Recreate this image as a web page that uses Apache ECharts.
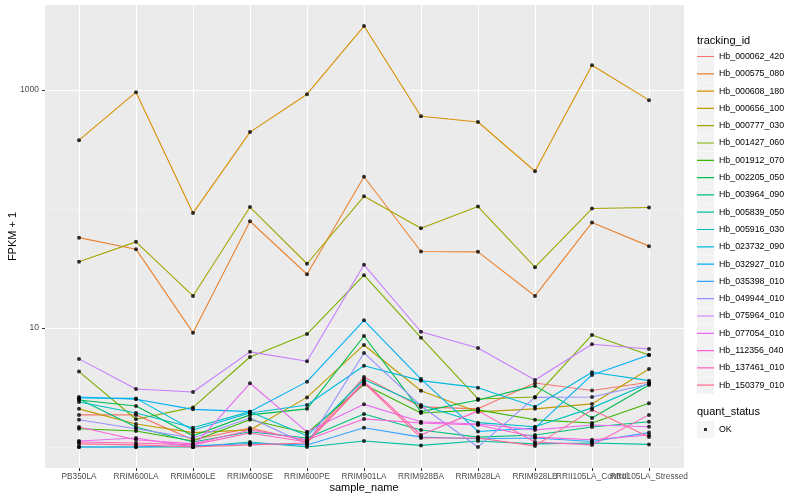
<!DOCTYPE html>
<html><head><meta charset="utf-8">
<script src="https://cdn.jsdelivr.net/npm/echarts@6.0.0/dist/echarts.min.js"></script>
<style>html,body{margin:0;padding:0;background:#fff}#c{width:800px;height:500px}</style>
</head><body><div id="c"></div>
<script>
const categories = ['PB350LA','RRIM600LA','RRIM600LE','RRIM600SE','RRIM600PE','RRIM901LA','RRIM928BA','RRIM928LA','RRIM928LB','RRII105LA_Control','RRII105LA_Stressed'];
const trackingIds = ['Hb_000062_420','Hb_000575_080','Hb_000608_180','Hb_000656_100','Hb_000777_030','Hb_001427_060','Hb_001912_070','Hb_002205_050','Hb_003964_090','Hb_005839_050','Hb_005916_030','Hb_023732_090','Hb_032927_010','Hb_035398_010','Hb_049944_010','Hb_075964_010','Hb_077054_010','Hb_112356_040','Hb_137461_010','Hb_150379_010'];
const colors = ['#F8766D','#EA8331','#D89000','#C09B00','#A3A500','#7CAE00','#39B600','#00BB4E','#00BF7D','#00C1A3','#00BFC4','#00BAE0','#00B0F6','#35A2FF','#9590FF','#C77CFF','#E76BF3','#FA62DB','#FF62BC','#FF6C91'];

// FPKM + 1 values, one array per tracking_id, in category order
const hb_000062_420 = [1.86,1.86,1.15,1.44,1.12,3.87,2.17,2.09,3.45,2.98,3.50];
const hb_000575_080 = [57.5,46,9.1,79,28.3,187,44,43.7,18.6,77,48.8];
const hb_000608_180 = [380,962,92.5,444,925,3460,604,540,208,1620,824];
const hb_000656_100 = [2.09,1.56,1.32,1.39,2.61,7.2,2.97,1.97,2.09,2.30,4.52];
const hb_000777_030 = [36,53,18.6,104,34.7,128,69,105,32.5,101,103];
const hb_001427_060 = [4.3,1.71,2.15,5.7,8.9,27.8,8.3,2.53,2.63,8.75,5.93];
const hb_001912_070 = [1.42,1.36,1.12,1.69,1.31,3.35,1.93,2.05,1.69,1.59,2.33];
const hb_002205_050 = [2.48,2.21,1.24,1.86,2.09,8.57,1.98,2.48,3.26,1.75,3.32];
const hb_003964_090 = [2.53,1.47,1.10,1.34,1.19,1.89,1.39,1.21,1.26,1.47,1.63];
const hb_005839_050 = [1.0,1.0,1.0,1.10,1.0,1.12,1.03,1.12,1.06,1.08,1.05];
const hb_005916_030 = [2.39,1.93,1.45,1.98,1.24,3.69,2.25,1.60,1.48,2.13,3.43];
const hb_023732_090 = [2.58,2.56,1.39,1.93,2.25,4.82,3.61,3.15,2.18,4.24,3.61];
const hb_032927_010 = [2.63,2.52,2.07,1.98,3.54,11.6,3.72,1.35,1.44,4.03,5.93];
const hb_035398_010 = [1.0,1.0,1.02,1.07,1.04,1.45,1.21,1.17,1.19,1.11,1.32];
const hb_049944_010 = [1.69,1.42,1.19,1.75,1.06,6.17,2.21,1.0,2.61,2.63,3.38];
const hb_075964_010 = [5.5,3.07,2.9,6.3,5.25,34,9.3,6.8,3.66,7.3,6.66];
const hb_077054_010 = [1.12,1.19,1.0,3.43,1.34,2.28,1.63,1.56,1.39,1.53,1.48];
const hb_112356_040 = [1.47,1.15,1.06,1.39,1.15,1.72,1.59,1.53,1.21,1.15,1.26];
const hb_137461_010 = [1.10,1.08,1.04,1.31,1.10,3.55,1.26,2.01,1.10,1.04,1.86];
const hb_150379_010 = [1.06,1.04,1.0,1.04,1.08,3.45,1.19,1.19,1.02,2.05,1.21];

const seriesValues = [hb_000062_420,hb_000575_080,hb_000608_180,hb_000656_100,hb_000777_030,hb_001427_060,hb_001912_070,hb_002205_050,hb_003964_090,hb_005839_050,hb_005916_030,hb_023732_090,hb_032927_010,hb_035398_010,hb_049944_010,hb_075964_010,hb_077054_010,hb_112356_040,hb_137461_010,hb_150379_010];
const yTickLabels = [10, 1000];
const yMin = 0.665, yMax = 5200;

const FONT = 'Liberation Sans, Arial, sans-serif';
const linePath = 'path://M0,0h0.01v0.01h-0.01z M0,7.9h17v1.2h-17z M16.99,16.99h0.01v0.01h-0.01z';
const dotPath = 'path://M0,0h0.01v0.01h-0.01z M7,7h3v3h-3z M16.99,16.99h0.01v0.01h-0.01z';

const lineSeries = trackingIds.map((id, i) => ({
  name: id, type: 'line', xAxisIndex: 1, yAxisIndex: 2,
  data: seriesValues[i], showSymbol: false, symbol: 'none',
  lineStyle: { color: colors[i], width: 1.1 }, itemStyle: { color: colors[i] },
  silent: true, z: 2
}));
const points = [];
seriesValues.forEach(arr => arr.forEach((v, j) => points.push([categories[j], v])));

const option = {
  animation: false,
  backgroundColor: '#ffffff',
  textStyle: { fontFamily: FONT },
  title: [
    { text: 'tracking_id', left: 697, top: 35, padding: 0, textStyle: { fontSize: 11, fontWeight: 'normal', color: '#000', fontFamily: FONT } },
    { text: 'quant_status', left: 697, top: 406, padding: 0, textStyle: { fontSize: 11, fontWeight: 'normal', color: '#000', fontFamily: FONT } }
  ],
  legend: [
    { orient: 'vertical', left: 697, top: 48, padding: 0, itemWidth: 17, itemHeight: 17, itemGap: 0.3, icon: 'rect', selectedMode: false, z: 3,
      itemStyle: { color: '#F2F2F2', borderWidth: 0 }, formatter: () => ' ', data: trackingIds.slice(), textStyle: { fontSize: 8.8 } },
    { orient: 'vertical', left: 697, top: 48, padding: 0, itemWidth: 17, itemHeight: 17, itemGap: 0.3, icon: linePath, selectedMode: false, z: 4,
      data: trackingIds.map((n, i) => ({ name: n, itemStyle: { color: colors[i], borderWidth: 0 } })),
      textStyle: { fontSize: 8.8, color: '#000', fontFamily: FONT } },
    { orient: 'vertical', left: 697, top: 421, padding: 0, itemWidth: 17, itemHeight: 17, icon: 'rect', selectedMode: false, z: 3,
      itemStyle: { color: '#F2F2F2', borderWidth: 0 }, formatter: () => ' ', data: ['OK'], textStyle: { fontSize: 8.8 } },
    { orient: 'vertical', left: 697, top: 421, padding: 0, itemWidth: 17, itemHeight: 17, icon: dotPath, selectedMode: false, z: 4,
      data: [{ name: 'OK', itemStyle: { color: '#000', borderWidth: 0 } }],
      textStyle: { fontSize: 8.8, color: '#000', fontFamily: FONT } }
  ],
  grid: [
    { left: 45, right: 116, top: 5, bottom: 32, show: true, backgroundColor: '#EBEBEB', borderWidth: 0, containLabel: false, outerBoundsMode: 'none' },
    { left: 79, right: 151, top: 5, bottom: 32, containLabel: false, outerBoundsMode: 'none' }
  ],
  xAxis: [
    { type: 'value', gridIndex: 0, min: 0, max: 1, show: false },
    { type: 'category', gridIndex: 1, data: categories, boundaryGap: false,
      name: 'sample_name', nameLocation: 'middle', nameGap: 14, nameMoveOverlap: false,
      nameTextStyle: { fontSize: 11, color: '#000', fontFamily: FONT },
      axisLine: { show: false },
      axisTick: { show: true, interval: 0, length: 3, lineStyle: { color: '#333', width: 1 } },
      axisLabel: { interval: 0, fontSize: 8.3, color: '#4D4D4D', margin: 5, fontFamily: FONT, hideOverlap: false },
      splitLine: { show: true, interval: 0, lineStyle: { color: '#FFFFFF', width: 1.1 } } }
  ],
  yAxis: [
    { type: 'log', logBase: 10, gridIndex: 0, min: yMin, max: yMax,
      name: 'FPKM + 1', nameLocation: 'middle', nameGap: 27, nameMoveOverlap: false,
      nameTextStyle: { fontSize: 11, color: '#000', fontFamily: FONT },
      axisLine: { show: false },
      axisTick: { show: true, length: 3, customValues: yTickLabels, lineStyle: { color: '#333', width: 1 } },
      axisLabel: { customValues: yTickLabels, fontSize: 8.5, color: '#4D4D4D', margin: 6, fontFamily: FONT, formatter: v => String(Math.round(v)) },
      splitLine: { show: true, lineStyle: { color: '#FFFFFF', width: 1.1 } } },
    { type: 'log', logBase: 10, gridIndex: 0, min: yMin, max: yMax, position: 'left',
      axisLine: { show: false }, axisTick: { show: false }, axisLabel: { show: false },
      splitLine: { show: true, showMinLine: false, showMaxLine: false, lineStyle: { color: 'rgba(255,255,255,0.55)', width: 0.6 } } },
    { type: 'log', logBase: 10, gridIndex: 1, min: yMin, max: yMax, show: false }
  ],
  series: lineSeries.concat([
    { name: 'OK', type: 'scatter', xAxisIndex: 1, yAxisIndex: 2, data: points, symbol: 'circle', symbolSize: 4,
      itemStyle: { color: '#000' }, silent: true, z: 5 }
  ])
};
const chart = echarts.init(document.getElementById('c'), null, { renderer: 'canvas' });
chart.setOption(option);
</script>
</body></html>
